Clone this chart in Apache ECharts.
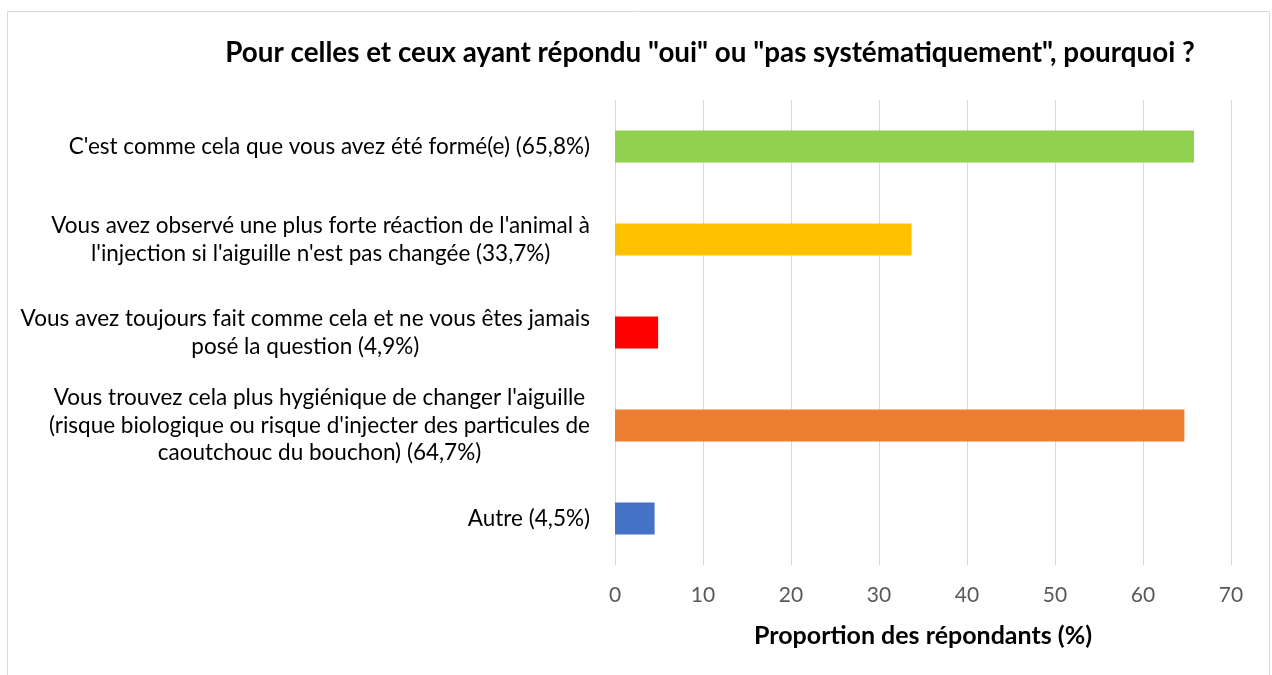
<!DOCTYPE html>
<html>
<head>
<meta charset="utf-8">
<script src="https://cdn.jsdelivr.net/npm/echarts@6/dist/echarts.min.js"></script>
<style>
  html, body { margin: 0; padding: 0; background: #fff; }
  #chart { width: 1272px; height: 675px; }
</style>
</head>
<body>
<div id="chart"></div>
<script>
const titleText = 'Pour celles et ceux ayant répondu "oui" ou "pas systématiquement", pourquoi ?';
const axisTitle = 'Proportion des répondants (%)';
const categories = [
  "C'est comme cela que vous avez été formé(e) (65,8%)",
  "Vous avez observé une plus forte réaction de l'animal à\nl'injection si l'aiguille n'est pas changée (33,7%)",
  "Vous avez toujours fait comme cela et ne vous êtes jamais\nposé la question (4,9%)",
  "Vous trouvez cela plus hygiénique de changer l'aiguille\n(risque biologique ou risque d'injecter des particules de\ncaoutchouc du bouchon) (64,7%)",
  "Autre (4,5%)"
];
const values = [65.8, 33.7, 4.9, 64.7, 4.5];
const barColors = ['#92D050', '#FFC000', '#FF0000', '#ED7D31', '#4472C4'];
const xTicks = { min: 0, max: 70, interval: 10 };

const FONT = 'Lato, "Open Sans", sans-serif';
const chart = echarts.init(document.getElementById('chart'), null, { renderer: 'canvas' });

chart.setOption({
  animation: false,
  backgroundColor: '#fff',
  title: {
    text: titleText,
    left: 705,
    top: 34,
    textAlign: 'center',
    textStyle: { fontFamily: FONT, fontSize: 27.8, fontWeight: 'bold', color: '#000' }
  },
  graphic: [{
    type: 'rect',
    shape: { x: 7.5, y: 11.5, width: 1262, height: 680 },
    style: { fill: 'none', stroke: '#D9D9D9', lineWidth: 1 },
    silent: true
  }],
  grid: { left: 615, right: 41, top: 100, bottom: 110 },
  xAxis: {
    type: 'value',
    min: xTicks.min,
    max: xTicks.max,
    interval: xTicks.interval,
    axisLine: { show: false },
    axisTick: { show: false },
    splitLine: { show: true, lineStyle: { color: '#D9D9D9', width: 1 } },
    axisLabel: { margin: 20, fontFamily: FONT, fontSize: 21, color: '#595959' },
    name: axisTitle,
    nameLocation: 'middle',
    nameGap: 58,
    nameTextStyle: { fontFamily: FONT, fontSize: 25, fontWeight: 'bold', color: '#000' }
  },
  yAxis: {
    type: 'category',
    data: categories,
    inverse: true,
    axisLine: { show: false },
    axisTick: { show: false },
    splitLine: { show: false },
    axisLabel: {
      margin: 25,
      align: 'right',
      formatter: v => '{t|' + v.split('\n').join('}\n{t|') + '}',
      rich: {
        t: { align: 'center', fontFamily: FONT, fontSize: 22.5, color: '#000', lineHeight: 27.5 }
      }
    }
  },
  series: [{
    type: 'bar',
    data: values.map((v, i) => ({ value: v, itemStyle: { color: barColors[i] } })),
    barWidth: 32
  }]
});
</script>
</body>
</html>
